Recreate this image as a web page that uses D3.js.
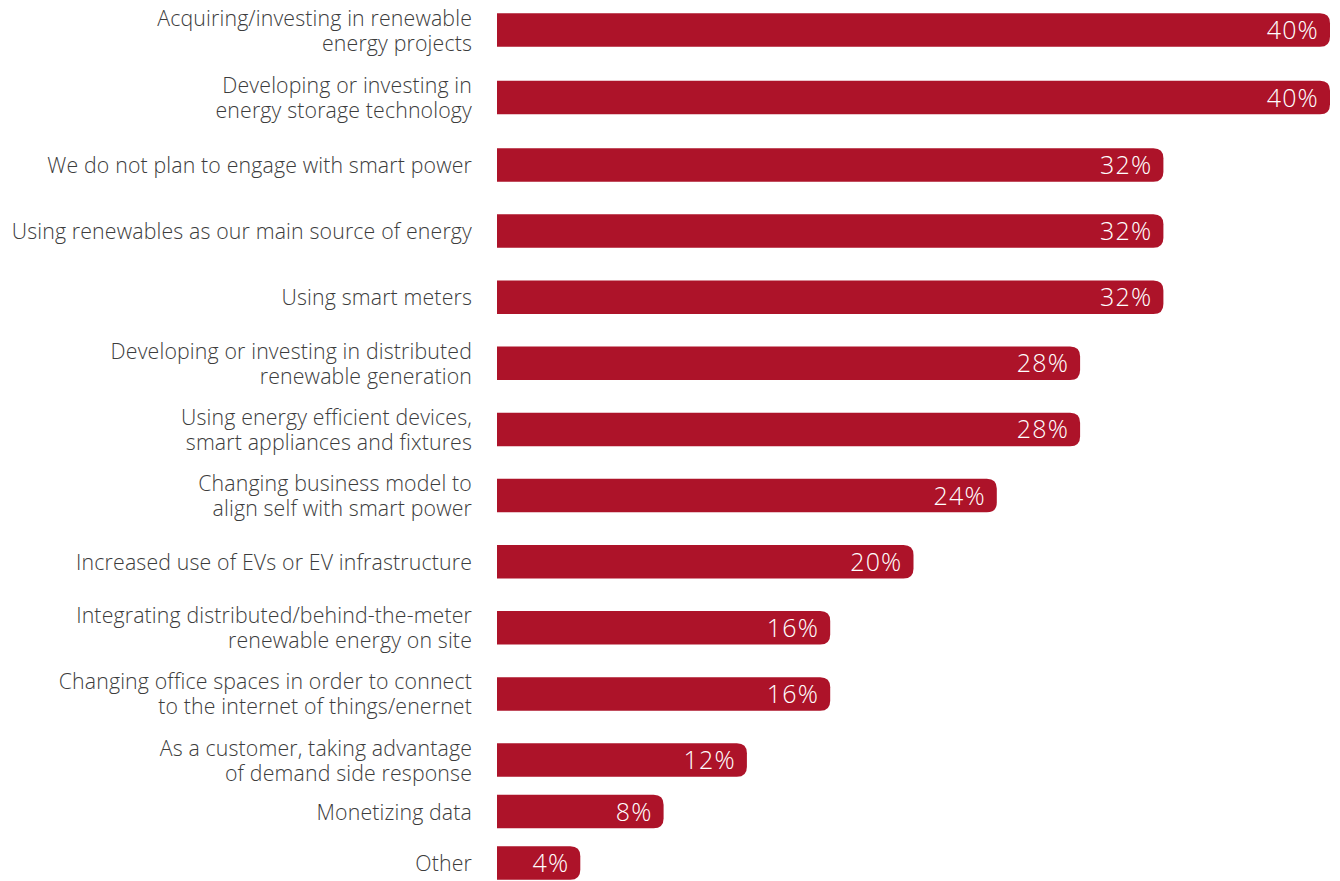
<!DOCTYPE html>
<html>
<head>
<meta charset="utf-8">
<script src="https://cdn.jsdelivr.net/npm/d3@7"></script>
<style>
  html, body { margin: 0; padding: 0; background: #fff; }
  svg { display: block; }
</style>
</head>
<body>
<svg id="chart" width="1340" height="881"></svg>
<script>
// Survey answers, one row per bar (label lines split with "\n")
const categories = [
  "Acquiring/investing in renewable\nenergy projects",
  "Developing or investing in\nenergy storage technology",
  "We do not plan to engage with smart power",
  "Using renewables as our main source of energy",
  "Using smart meters",
  "Developing or investing in distributed\nrenewable generation",
  "Using energy efficient devices,\nsmart appliances and fixtures",
  "Changing business model to\nalign self with smart power",
  "Increased use of EVs or EV infrastructure",
  "Integrating distributed/behind-the-meter\nrenewable energy on site",
  "Changing office spaces in order to connect\nto the internet of things/enernet",
  "As a customer, taking advantage\nof demand side response",
  "Monetizing data",
  "Other"
];
const values = [40, 40, 32, 32, 32, 28, 28, 24, 20, 16, 16, 12, 8, 4];

const svg = d3.select("#chart");
const barColor = "#ad1329";
const barH = 33.5;
const r = 10;
const font = "'Open Sans', 'DejaVu Sans', sans-serif";

// value -> horizontal extent of each bar
const x = d3.scaleLinear().domain([0, 40]).range([497, 1330]);
// row index -> vertical centre; the last rows sit closer together
const y = d3.scaleLinear().domain([0, 2, 11, 13]).range([30, 165, 760, 863]);

const rows = categories.map((c, i) => ({ label: c, value: values[i], i }));

// bar with square left edge and rounded right end
function barPath(d) {
  const x0 = x(0), x1 = x(d.value);
  const y0 = y(d.i) - barH / 2, y1 = y(d.i) + barH / 2;
  const rr = Math.min(r, (x1 - x0) / 2);
  return `M${x0},${y0}H${x1 - rr}Q${x1},${y0} ${x1},${y0 + rr}` +
         `V${y1 - rr}Q${x1},${y1} ${x1 - rr},${y1}H${x0}Z`;
}

const g = svg.append("g");

g.selectAll("path.bar")
  .data(rows)
  .join("path")
  .attr("class", "bar")
  .attr("d", barPath)
  .attr("fill", barColor);

// value labels inside the bar end
g.selectAll("text.value")
  .data(rows)
  .join("text")
  .attr("class", "value")
  .attr("x", d => x(d.value) - 11)
  .attr("y", d => y(d.i))
  .attr("dy", "0.36em")
  .attr("text-anchor", "end")
  .attr("fill", "#fff")
  .attr("font-family", font)
  .attr("font-weight", 300)
  .attr("font-size", 25)
  .attr("letter-spacing", 1.2)
  .text(d => d.value + "%");

// category labels, right-aligned to the left of the bars
const lineH = 25;
const labels = g.selectAll("text.cat")
  .data(rows)
  .join("text")
  .attr("class", "cat")
  .attr("text-anchor", "end")
  .attr("fill", "#3c3c3c")
  .attr("font-family", font)
  .attr("font-weight", 300)
  .attr("font-size", 21.3)
  .attr("letter-spacing", 0.15);

labels.each(function(d) {
  const lines = d.label.split("\n");
  const offset = -(lines.length - 1) * lineH / 2;
  d3.select(this).selectAll("tspan")
    .data(lines)
    .join("tspan")
    .attr("x", 472)
    .attr("y", (l, k) => y(d.i) + offset + k * lineH)
    .attr("dy", "0.38em")
    .text(l => l);
});
</script>
</body>
</html>
